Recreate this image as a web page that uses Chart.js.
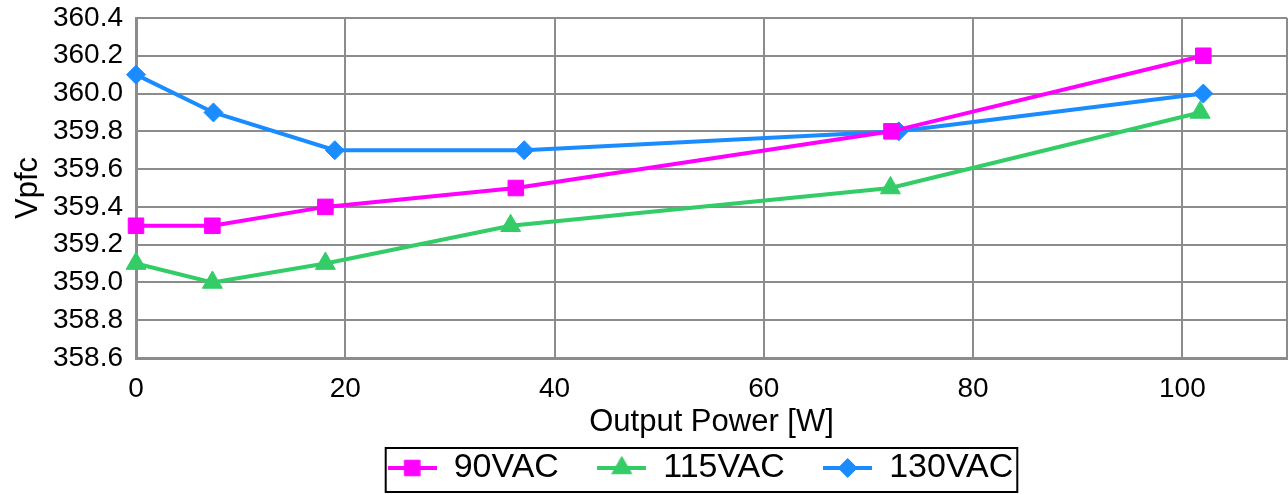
<!DOCTYPE html>
<html>
<head>
<meta charset="utf-8">
<script src="https://cdn.jsdelivr.net/npm/chart.js@4/dist/chart.umd.min.js"></script>
<style>
  html, body { margin: 0; padding: 0; background: #fff; }
  #wrap { width: 1288px; height: 495px; }
</style>
</head>
<body>
<div id="wrap"><canvas id="chart" width="1288" height="495"></canvas></div>
<script>
// series: output power [W] and Vpfc for each line voltage
const seriesNames = ['90VAC', '115VAC', '130VAC'];
const power90 = [0, 7.3, 18.1, 36.3, 72.2, 102];
const vpfc90 = [359.3, 359.3, 359.4, 359.5, 359.8, 360.2];
const power115 = [0, 7.3, 18.1, 35.8, 72.1, 101.7];
const vpfc115 = [359.1, 359.0, 359.1, 359.3, 359.5, 359.9];
const power130 = [0, 7.4, 19.0, 37.1, 72.9, 102];
const vpfc130 = [360.1, 359.9, 359.7, 359.7, 359.8, 360.0];

const colors = ['#ff00ff', '#33cc66', '#1a8cff'];
const markers = ['rect', 'triangle', 'rectRot'];
const markerSize = [11, 11.5, 9.5];

const GRID = '#8c8c8c';
const FONT = 'Liberation Sans, Arial, sans-serif';

function toPoints(xs, ys) {
  return xs.map((x, i) => ({ x: x, y: ys[i] }));
}

// legend swatch: short line with the marker in the middle
function legendSwatch(i) {
  const c = document.createElement('canvas');
  c.width = 49;
  c.height = 26;
  const g = c.getContext('2d');
  g.strokeStyle = colors[i];
  g.lineWidth = 4;
  g.beginPath();
  g.moveTo(0, 13);
  g.lineTo(49, 13);
  g.stroke();
  g.fillStyle = colors[i];
  g.strokeStyle = colors[i];
  g.lineWidth = 1;
  Chart.helpers.drawPoint(g, { pointStyle: markers[i], radius: markerSize[i], borderWidth: 1, rotation: 0 }, 24.5, 13);
  return c;
}

const allSeries = [toPoints(power90, vpfc90), toPoints(power115, vpfc115), toPoints(power130, vpfc130)];

const datasets = allSeries.map((pts, i) => ({
  label: seriesNames[i],
  data: pts,
  borderColor: colors[i],
  backgroundColor: colors[i],
  borderWidth: 4,
  pointStyle: markers[i],
  pointRadius: markerSize[i],
  pointHoverRadius: markerSize[i],
  pointBorderWidth: 1,
  tension: 0,
  clip: false
}));

// nudge the legend a little left and put a frame round it
const legendFrame = {
  id: 'legendFrame',
  afterLayout(chart) {
    const lg = chart.legend;
    if (!lg) return;
    lg.left -= 11;
    lg.right -= 11;
  },
  afterDraw(chart) {
    const lg = chart.legend;
    if (!lg || !lg.legendHitBoxes.length) return;
    const boxes = lg.legendHitBoxes;
    const first = boxes[0];
    const last = boxes[boxes.length - 1];
    const ctx = chart.ctx;
    ctx.save();
    ctx.strokeStyle = '#000';
    ctx.lineWidth = 2;
    const left = first.left - 2;
    const right = last.left + last.width + 4;
    const top = first.top - 3;
    const bottom = first.top + first.height + 7;
    ctx.strokeRect(left, top, right - left, bottom - top);
    ctx.restore();
  }
};

new Chart(document.getElementById('chart'), {
  type: 'line',
  data: { datasets: datasets },
  plugins: [legendFrame],
  options: {
    responsive: false,
    animation: false,
    layout: { autoPadding: false, padding: { top: 18, right: 1, left: 0, bottom: 0 } },
    scales: {
      x: {
        type: 'linear',
        min: 0,
        max: 110,
        ticks: {
          stepSize: 20,
          padding: 14,
          color: '#000',
          font: { family: FONT, size: 28 },
          maxRotation: 0,
          callback: (v) => (v > 100 ? '' : v)
        },
        grid: { color: GRID, lineWidth: 2, drawTicks: false },
        border: { color: GRID, width: 3 },
        title: {
          display: true,
          text: 'Output Power [W]',
          color: '#000',
          font: { family: FONT, size: 31 },
          padding: { top: 2, bottom: 0 }
        },
        afterFit: (scale) => {
          scale.height = 83;
          scale.paddingLeft = 0;
          scale.paddingRight = 0;
        }
      },
      y: {
        min: 358.6,
        max: 360.4,
        ticks: {
          stepSize: 0.2,
          padding: 13,
          autoSkip: false,
          color: '#000',
          font: { family: FONT, size: 28 },
          callback: (v) => Number(v).toFixed(1)
        },
        grid: { color: GRID, lineWidth: 2, drawTicks: false },
        border: { color: GRID, width: 3 },
        title: {
          display: true,
          text: 'Vpfc',
          color: '#000',
          font: { family: FONT, size: 31 },
          padding: { top: 10, bottom: 0 }
        },
        afterFit: (scale) => {
          scale.width = 136;
          scale.paddingTop = 0;
          scale.paddingBottom = 0;
        }
      }
    },
    plugins: {
      tooltip: { enabled: false },
      legend: {
        position: 'bottom',
        fullSize: false,
        labels: {
          usePointStyle: true,
          pointStyleWidth: 49,
          padding: 10,
          color: '#000',
          font: { family: FONT, size: 34 },
          generateLabels: (chart) => {
            const items = Chart.defaults.plugins.legend.labels.generateLabels(chart);
            return items.map((it, i) => {
              it.pointStyle = legendSwatch(i);
              it.text = i < items.length - 1 ? it.text + '   ' : it.text;
              return it;
            });
          }
        }
      }
    }
  }
});
</script>
</body>
</html>
